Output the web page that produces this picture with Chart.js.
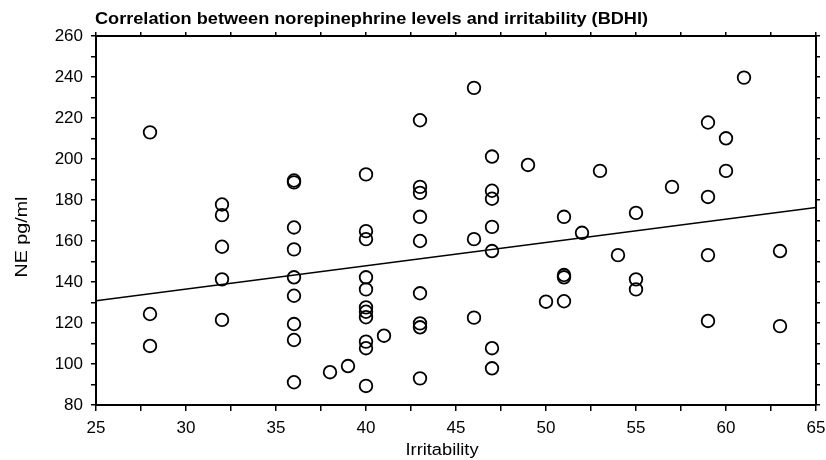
<!DOCTYPE html>
<html>
<head>
<meta charset="utf-8">
<script src="https://cdn.jsdelivr.net/npm/chart.js@4.4.0/dist/chart.umd.min.js"></script>
<style>
  html, body { margin: 0; padding: 0; background: #fff; }
  #wrap { width: 826px; height: 460px; position: relative; }
</style>
</head>
<body>
<div id="wrap"><canvas id="chart"></canvas></div>
<script>
// Irritability (BDHI) scores and matching NE levels
const irritability = [
  28, 28, 28,
  32, 32, 32, 32, 32,
  36, 36, 36, 36, 36, 36, 36, 36, 36,
  38, 39,
  40, 40, 40, 40, 40, 40, 40, 40, 40, 40, 40,
  41,
  43, 43, 43, 43, 43, 43, 43, 43, 43,
  46, 46, 46,
  47, 47, 47, 47, 47, 47, 47,
  49, 50,
  51, 51, 51, 51,
  52, 53, 54,
  55, 55, 55,
  57,
  59, 59, 59, 59,
  60, 60,
  61,
  63, 63
];
const nePgMl = [
  213, 124.4, 108.8,
  177.8, 172.6, 157.2, 141.3, 121.5,
  189.5, 188.6, 166.6, 155.9, 142.3, 133.3, 119.5, 111.7, 91.1,
  96.0, 99.0,
  192.5, 164.8, 160.9, 142.3, 136.4, 127.6, 125.5, 122.8, 110.9, 107.7, 89.3,
  113.8,
  218.9, 186.4, 183.5, 171.8, 160.0, 134.5, 119.8, 117.9, 93.0,
  234.7, 160.9, 122.6,
  201.2, 184.5, 180.6, 166.9, 155.1, 107.7, 97.9,
  197.1, 130.4,
  171.8, 143.4, 142.3, 130.6,
  164.0, 194.2, 153.1,
  173.7, 141.3, 136.4,
  186.4,
  217.8, 181.5, 153.1, 121.0,
  210.1, 194.2,
  239.7,
  155.1, 118.5
];

// regression line end points
const fitX = [25, 65];
const fitY = [130.9, 176.4];

const xTicks = [25, 30, 35, 40, 45, 50, 55, 60, 65];
const yTicks = [80, 100, 120, 140, 160, 180, 200, 220, 240, 260];

const chartTitle = 'Correlation between norepinephrine levels and irritability (BDHI)';
const xTitle = 'Irritability';
const yTitle = 'NE pg/ml';

const FONT = 'Arial, "Liberation Sans", sans-serif';

const scatterData = irritability.map((x, i) => ({ x: x, y: nePgMl[i] }));
const fitData = fitX.map((x, i) => ({ x: x, y: fitY[i] }));

// text drawn stretched to a target width (the original font runs wider than Arial)
function wideText(ctx, text, x, y, width, align) {
  const w = ctx.measureText(text).width;
  const k = width / w;
  ctx.save();
  ctx.translate(x, y);
  ctx.scale(k, 1);
  ctx.textAlign = align;
  ctx.fillText(text, 0, 0);
  ctx.restore();
}

// draws the chart title and the two axis titles
const textPlugin = {
  id: 'texts',
  afterDraw(chart) {
    const ctx = chart.ctx;
    const area = chart.chartArea;
    ctx.save();
    ctx.fillStyle = '#000';
    ctx.textBaseline = 'alphabetic';

    ctx.font = 'bold 16px ' + FONT;
    wideText(ctx, chartTitle, area.left - 1, 24, 553, 'left');

    ctx.font = '16px ' + FONT;
    wideText(ctx, xTitle, 442, 455, 73, 'center');

    ctx.translate(27, 237);
    ctx.rotate(-Math.PI / 2);
    wideText(ctx, yTitle, 0, 0, 81, 'center');
    ctx.restore();
  }
};

const axisGrid = {
  drawOnChartArea: false,
  drawTicks: true,
  tickLength: 5,
  color: '#000',
  lineWidth: 1.5
};
const axisBorder = { display: true, color: '#000', width: 2 };

new Chart(document.getElementById('chart'), {
  data: {
    datasets: [
      {
        type: 'scatter',
        data: scatterData,
        pointStyle: 'circle',
        pointRadius: 6.3,
        borderColor: '#000',
        backgroundColor: 'rgba(0,0,0,0)',
        borderWidth: 1.8,
        order: 1
      },
      {
        type: 'line',
        data: fitData,
        borderColor: '#000',
        borderWidth: 1.5,
        pointRadius: 0,
        fill: false,
        order: 2
      }
    ]
  },
  options: {
    responsive: true,
    maintainAspectRatio: false,
    animation: false,
    layout: { padding: { top: 31, right: 5, bottom: 0, left: 0 } },
    plugins: {
      legend: { display: false },
      tooltip: { enabled: false },
      title: { display: false }
    },
    scales: {
      x: {
        type: 'linear',
        position: 'bottom',
        min: xTicks[0],
        max: xTicks[xTicks.length - 1],
        grid: Object.assign({}, axisGrid, { tickLength: 6 }),
        border: axisBorder,
        ticks: {
          stepSize: 2.5,
          autoSkip: false,
          maxRotation: 0,
          color: '#000',
          padding: 7,
          font: { family: FONT, size: 17 },
          callback: v => xTicks.includes(v) ? String(v) : ''
        },
        afterFit: s => { s.height = 55; s.paddingLeft = 0; s.paddingRight = 0; }
      },
      x2: {
        type: 'linear',
        position: 'top',
        min: xTicks[0],
        max: xTicks[xTicks.length - 1],
        grid: Object.assign({}, axisGrid, { tickLength: 4 }),
        border: axisBorder,
        ticks: { stepSize: 2.5, autoSkip: false, callback: () => '' },
        afterFit: s => { s.height = 5; s.paddingLeft = 0; s.paddingRight = 0; }
      },
      y: {
        type: 'linear',
        position: 'left',
        min: yTicks[0],
        max: yTicks[yTicks.length - 1],
        grid: axisGrid,
        border: axisBorder,
        ticks: {
          stepSize: 10,
          autoSkip: false,
          color: '#000',
          padding: 8,
          font: { family: FONT, size: 17 },
          callback: v => yTicks.includes(v) ? String(v) : ''
        },
        afterFit: s => { s.width = 96; s.paddingTop = 0; s.paddingBottom = 0; }
      },
      y2: {
        type: 'linear',
        position: 'right',
        min: yTicks[0],
        max: yTicks[yTicks.length - 1],
        grid: Object.assign({}, axisGrid, { tickLength: 4 }),
        border: axisBorder,
        ticks: { stepSize: 10, autoSkip: false, callback: () => '' },
        afterFit: s => { s.width = 5; s.paddingTop = 0; s.paddingBottom = 0; }
      }
    }
  },
  plugins: [textPlugin]
});
</script>
</body>
</html>
